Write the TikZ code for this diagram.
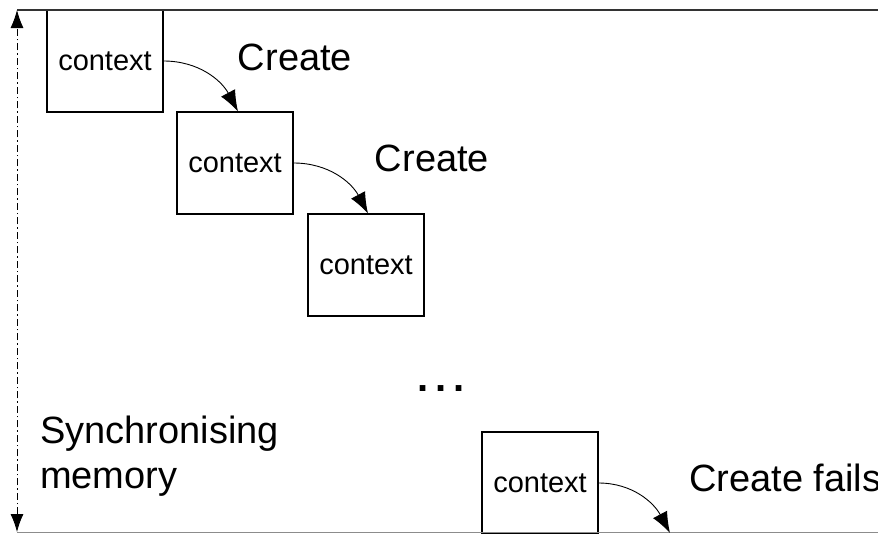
\documentclass[tikz,border=0pt]{standalone}
\usepackage{fontspec}
\setmainfont{Liberation Sans}
\usetikzlibrary{arrows.meta}

\begin{document}
\begin{tikzpicture}[x=1pt, y=-1pt]
\tikzset{ctxbox/.style={draw, line width=1.1pt, minimum width=116pt, minimum height=102pt, inner sep=0, font=\fontsize{29}{34}\selectfont},
bigtext/.style={inner sep=0, font=\fontsize{38}{45}\selectfont},
createarrow/.style={-{Latex[length=21pt,width=16pt]}, line width=0.9pt},
framearrow/.style={{Latex[length=18pt,width=13pt]}-{Latex[length=18pt,width=13pt]}, line width=0.9pt, dash pattern=on 7pt off 3pt on 1.5pt off 3pt}}

\useasboundingbox (0,0) rectangle (878,533);

\node (ctx1) [ctxbox] at (105,61) {context};
\node (ctx2) [ctxbox] at (235,163) {context};
\node (ctx3) [ctxbox] at (366,265) {context};
\node (ctx4) [ctxbox] at (540,483) {context};

\coordinate (top) at (17,10);
\coordinate (bottom) at (17,532);
\coordinate (topend) at (878,10);
\coordinate (bottomend) at (878,532);
\coordinate (next) at (670,533);

\node (create1) [bigtext] at (295,57) {Create};
\node (create2) [bigtext] at (432,158) {Create};
\node (fails) [bigtext,anchor=west] at (689,478) {Create fails};
\node (dots) [bigtext,font=\fontsize{40}{45}\selectfont\bfseries] at (441,389) {.\,.\,.};
\node (sync) [bigtext,anchor=west,align=left] at (40,456) {Synchronising\\memory};

%% Frame
\draw [line width=1.6pt, black!80] (top) -- (topend);
\draw [line width=1pt, black!45] (bottom) -- (bottomend);
\draw [framearrow] (bottom) -- (top);

%% Create steps
\draw [createarrow] (ctx1.east) to[out=0, in=118] (ctx2.north -| 238,0);
\draw [createarrow] (ctx2.east) to[out=0, in=118] (ctx3.north -| 368,0);
\draw [createarrow] (ctx4.east) to[out=0, in=118] (next);

\end{tikzpicture}
\end{document}
